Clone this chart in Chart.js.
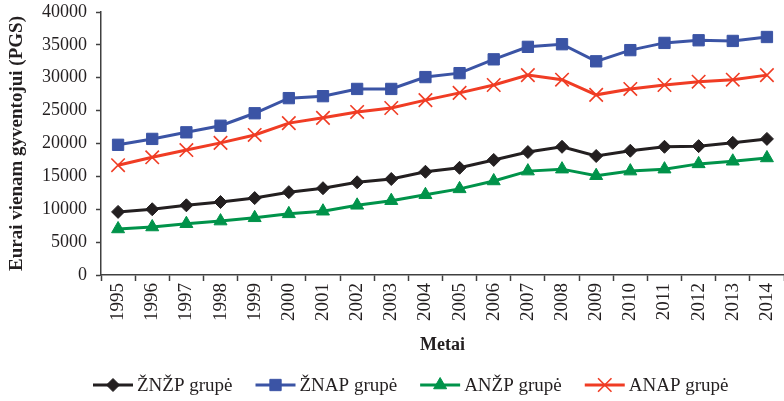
<!DOCTYPE html>
<html lang="lt">

<head>
    <meta charset="UTF-8">
    <title>Eurai vienam gyventojui (PGS)</title>
    <script src="https://cdn.jsdelivr.net/npm/chart.js"></script>
    <style>
        html, body { margin: 0; padding: 0; background: #fff; }
        #wrap { width: 784px; height: 401px; }
    </style>
</head>

<body>
    <div id="wrap"><canvas id="gdpChart" width="784" height="401"></canvas></div>

    <script>
        // values
        const years = ['1995', '1996', '1997', '1998', '1999', '2000', '2001', '2002', '2003', '2004',
            '2005', '2006', '2007', '2008', '2009', '2010', '2011', '2012', '2013', '2014'];
        const znzp = [9600, 10000, 10600, 11100, 11700, 12600, 13200, 14100, 14600, 15700,
            16300, 17500, 18700, 19500, 18100, 18900, 19500, 19600, 20100, 20700];
        const znap = [19800, 20700, 21700, 22700, 24600, 26900, 27200, 28300, 28300, 30100,
            30700, 32800, 34700, 35100, 32500, 34200, 35300, 35700, 35600, 36200];
        const anzp = [7000, 7300, 7800, 8200, 8700, 9300, 9700, 10600, 11300, 12200,
            13100, 14300, 15800, 16100, 15100, 15800, 16100, 16900, 17300, 17800];
        const anap = [16700, 17900, 19000, 20100, 21300, 23100, 23900, 24800, 25400, 26600,
            27700, 28900, 30400, 29700, 27400, 28300, 28900, 29400, 29700, 30400];
        const seriesNames = ['ŽNŽP grupė', 'ŽNAP grupė', 'ANŽP grupė', 'ANAP grupė'];
        const yTicks = [0, 5000, 10000, 15000, 20000, 25000, 30000, 35000, 40000];

        const FONT = "'Liberation Serif', 'Times New Roman', serif";
        const AXIS = '#404040';

        function series(label, data, color, style, radius, pbw) {
            return {
                label: label,
                data: data,
                borderColor: color,
                backgroundColor: color,
                borderWidth: 3,
                pointStyle: style,
                pointRadius: radius,
                pointHoverRadius: radius,
                pointBackgroundColor: color,
                pointBorderColor: color,
                pointBorderWidth: pbw,
                tension: 0,
                fill: false,
                clip: false
            };
        }

        // legend drawn under the chart: line with marker, then label
        const lineLegend = {
            id: 'lineLegend',
            afterDraw(chart) {
                const ctx = chart.ctx;
                let x = 93;
                const y = 385;
                ctx.save();
                ctx.font = '19px ' + FONT;
                ctx.textBaseline = 'middle';
                ctx.textAlign = 'left';
                chart.data.datasets.forEach(ds => {
                    ctx.strokeStyle = ds.borderColor;
                    ctx.fillStyle = ds.borderColor;
                    ctx.lineWidth = 3;
                    ctx.beginPath();
                    ctx.moveTo(x, y);
                    ctx.lineTo(x + 40, y);
                    ctx.stroke();
                    ctx.lineWidth = ds.pointBorderWidth;
                    Chart.helpers.drawPoint(ctx, {
                        pointStyle: ds.pointStyle,
                        radius: ds.pointRadius,
                        rotation: 0,
                        borderWidth: ds.pointBorderWidth
                    }, x + 20, y);
                    ctx.fillStyle = '#231f20';
                    ctx.fillText(ds.label, x + 44, y + 1);
                    x += 44 + ctx.measureText(ds.label).width + 23;
                });
                ctx.restore();
            }
        };

        const ctx = document.getElementById('gdpChart').getContext('2d');
        new Chart(ctx, {
            type: 'line',
            data: {
                labels: years,
                datasets: [
                    series(seriesNames[0], znzp, '#231f20', 'rectRot', 6.5, 1),
                    series(seriesNames[1], znap, '#3b54a5', 'rect', 8, 1),
                    series(seriesNames[2], anzp, '#00934a', 'triangle', 7.5, 1),
                    series(seriesNames[3], anap, '#f03c24', 'crossRot', 9.5, 1.6)
                ]
            },
            options: {
                responsive: false,
                animation: false,
                events: [],
                layout: { autoPadding: false, padding: { left: 0, right: 0, top: 12, bottom: 41 } },
                plugins: {
                    legend: { display: false },
                    tooltip: { enabled: false }
                },
                scales: {
                    x: {
                        offset: true,
                        grid: {
                            offset: true,
                            drawOnChartArea: false,
                            tickLength: 6,
                            tickColor: AXIS,
                            tickWidth: 1.5
                        },
                        border: { color: AXIS, width: 1.5 },
                        ticks: {
                            autoSkip: false,
                            maxRotation: 90,
                            minRotation: 90,
                            padding: 2,
                            color: '#231f20',
                            font: { family: FONT, size: 19 }
                        },
                        title: {
                            display: true,
                            text: 'Metai',
                            color: '#231f20',
                            padding: { top: 0, bottom: 4 },
                            font: { family: FONT, size: 18, weight: 'bold' }
                        },
                        afterFit(scale) {
                            scale.height = 85;
                            scale.paddingLeft = 0;
                            scale.paddingRight = 0;
                        }
                    },
                    y: {
                        min: 0,
                        max: 40000,
                        afterBuildTicks(scale) { scale.ticks = yTicks.map(v => ({ value: v })); },
                        grid: {
                            drawOnChartArea: false,
                            tickLength: 5,
                            tickColor: AXIS,
                            tickWidth: 1.5
                        },
                        border: { color: AXIS, width: 1.5 },
                        ticks: {
                            padding: 9,
                            color: '#231f20',
                            font: { family: FONT, size: 18 },
                            callback: v => String(v)
                        },
                        title: {
                            display: true,
                            text: 'Eurai vienam gyventojui (PGS)',
                            color: '#231f20',
                            padding: { top: 6, bottom: 0 },
                            font: { family: FONT, size: 19, weight: 'bold' }
                        },
                        afterFit(scale) {
                            scale.width = 101;
                            scale.paddingTop = 0;
                            scale.paddingBottom = 0;
                        }
                    }
                }
            },
            plugins: [lineLegend]
        });
    </script>
</body>

</html>
